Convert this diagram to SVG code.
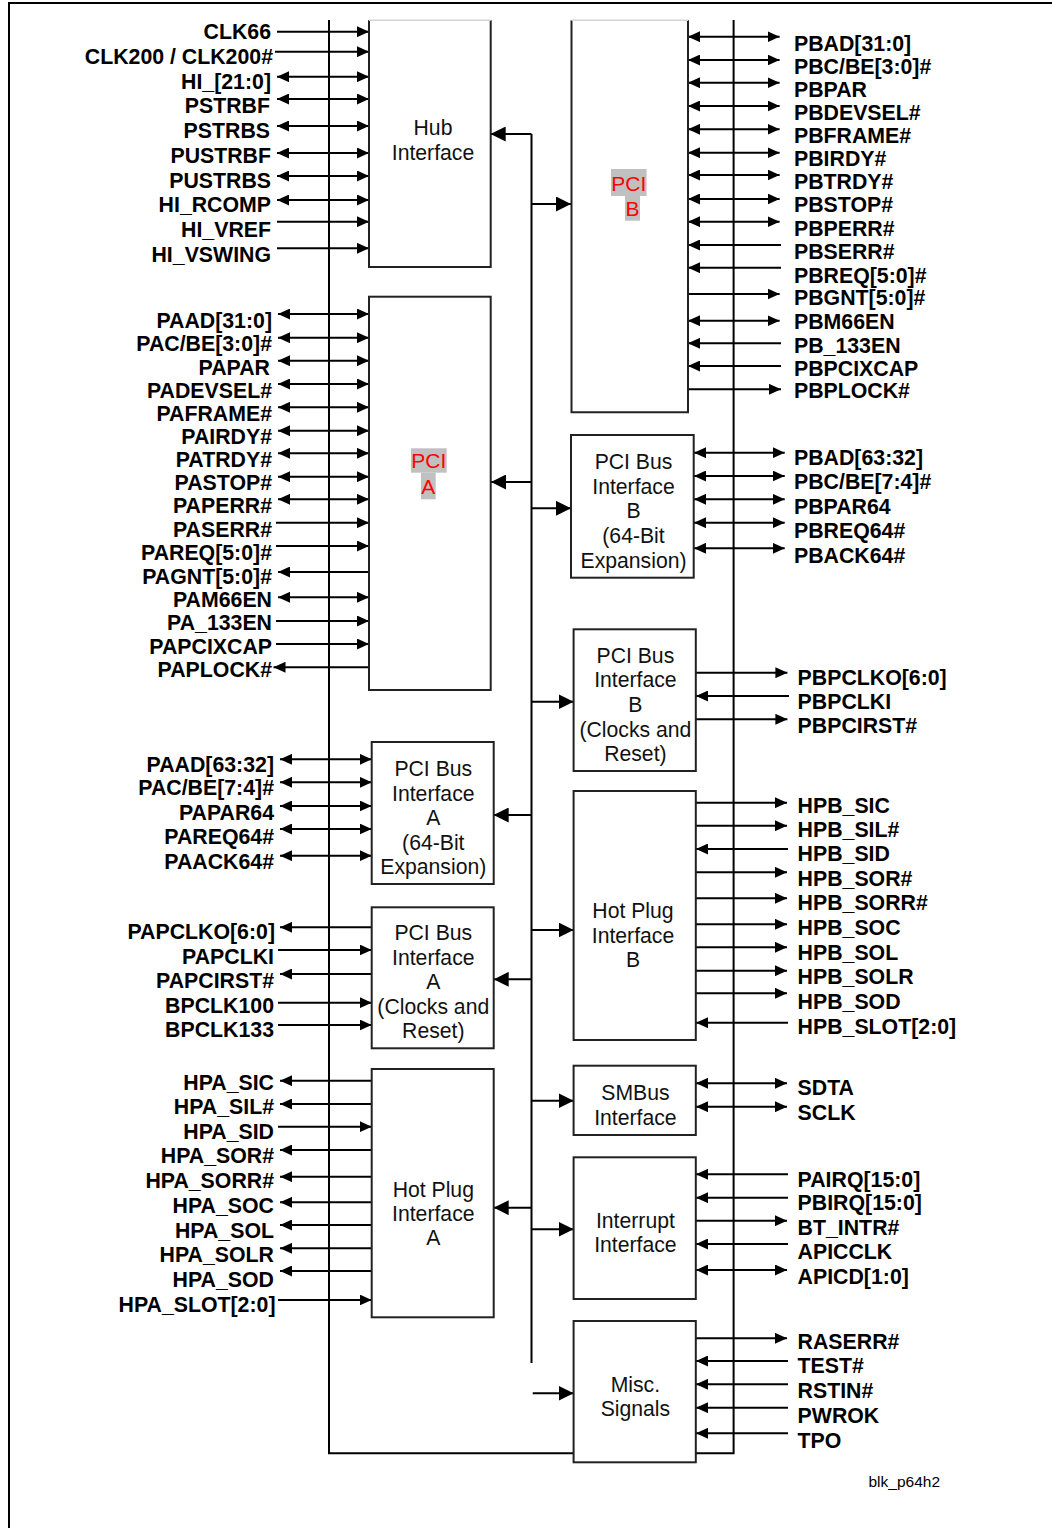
<svg xmlns="http://www.w3.org/2000/svg" width="1052" height="1528" viewBox="0 0 1052 1528">
<style>
.s{stroke:#000;stroke-width:2;fill:none}
.o{marker-end:url(#ah)}
.b{marker-start:url(#ah);marker-end:url(#ah)}
.k{marker-end:url(#bh)}
.bx{fill:#fff;stroke:#222;stroke-width:2}
.bf{fill:#fff;stroke:none}
.lbl{font-family:"Liberation Sans",Arial,sans-serif;font-weight:bold;font-size:21.3px;fill:#000}
.l{text-anchor:end}
.bt{font-family:"Liberation Sans",Arial,sans-serif;font-size:21.2px;text-anchor:middle;fill:#111}
.red{font-family:"Liberation Sans",Arial,sans-serif;font-size:21px;text-anchor:middle;fill:#ff0000}
.hl{fill:#c0c0c0}
</style>
<defs>
<marker id="ah" viewBox="0 0 12 11" refX="12" refY="5.5" markerWidth="12" markerHeight="11" markerUnits="userSpaceOnUse" orient="auto-start-reverse"><path d="M0,0 L12,5.5 L0,11 z" fill="#000"/></marker>
<marker id="bh" viewBox="0 0 15 15" refX="15" refY="7.5" markerWidth="15" markerHeight="15" markerUnits="userSpaceOnUse" orient="auto"><path d="M0,0 L15,7.5 L0,15 z" fill="#000"/></marker>
</defs>
<rect x="0" y="0" width="1052" height="1528" fill="#fff"/>
<path d="M9,1528 V3 H1052" stroke="#000" stroke-width="2" fill="none"/>

<g id="connectors">
<path class="s" d="M329,20 V1453.3 H733.6 V20"/>
<line class="s" x1="531.5" y1="134" x2="531.5" y2="1363"/>
<line class="s k" x1="531.5" y1="134" x2="490.7" y2="134"/>
<line class="s k" x1="531.5" y1="204" x2="571" y2="204"/>
<line class="s k" x1="531.5" y1="482" x2="491" y2="482"/>
<line class="s k" x1="531.5" y1="508.3" x2="571" y2="508.3"/>
<line class="s k" x1="531.5" y1="701.7" x2="573.6" y2="701.7"/>
<line class="s k" x1="531.5" y1="815" x2="493.7" y2="815"/>
<line class="s k" x1="531.5" y1="930" x2="573.6" y2="930"/>
<line class="s k" x1="531.5" y1="979.3" x2="493.7" y2="979.3"/>
<line class="s k" x1="531.5" y1="1100.7" x2="573.6" y2="1100.7"/>
<line class="s k" x1="531.5" y1="1207.7" x2="493.7" y2="1207.7"/>
<line class="s k" x1="531.5" y1="1229.3" x2="573.6" y2="1229.3"/>
<line class="s k" x1="532.7" y1="1393.3" x2="573.6" y2="1393.3"/>

<line class="s o" x1="277" y1="31.7" x2="369" y2="31.7"/>
<line class="s o" x1="275" y1="51.7" x2="369" y2="51.7"/>
<line class="s b" x1="277" y1="76.7" x2="369" y2="76.7"/>
<line class="s b" x1="277" y1="99" x2="369" y2="99"/>
<line class="s b" x1="277" y1="126" x2="369" y2="126"/>
<line class="s b" x1="277" y1="153" x2="369" y2="153"/>
<line class="s b" x1="277" y1="176" x2="369" y2="176"/>
<line class="s b" x1="277" y1="200" x2="369" y2="200"/>
<line class="s o" x1="277" y1="221.7" x2="369" y2="221.7"/>
<line class="s o" x1="277" y1="248.3" x2="369" y2="248.3"/>

<line class="s b" x1="278" y1="314" x2="369" y2="314"/>
<line class="s b" x1="278" y1="337.7" x2="369" y2="337.7"/>
<line class="s b" x1="278" y1="360.7" x2="369" y2="360.7"/>
<line class="s b" x1="278" y1="384" x2="369" y2="384"/>
<line class="s b" x1="278" y1="407.3" x2="369" y2="407.3"/>
<line class="s b" x1="278" y1="430.7" x2="369" y2="430.7"/>
<line class="s b" x1="278" y1="453.3" x2="369" y2="453.3"/>
<line class="s b" x1="278" y1="476.7" x2="369" y2="476.7"/>
<line class="s b" x1="278" y1="499.3" x2="369" y2="499.3"/>
<line class="s o" x1="276" y1="522.7" x2="369" y2="522.7"/>
<line class="s o" x1="276" y1="546" x2="369" y2="546"/>
<line class="s o" x1="369" y1="572" x2="278" y2="572"/>
<line class="s b" x1="278" y1="597.3" x2="369" y2="597.3"/>
<line class="s o" x1="276" y1="621" x2="369" y2="621"/>
<line class="s o" x1="276" y1="644" x2="369" y2="644"/>
<line class="s o" x1="369" y1="667.3" x2="273.5" y2="667.3"/>

<line class="s b" x1="688" y1="36.7" x2="779.6" y2="36.7"/>
<line class="s b" x1="688" y1="60" x2="779.6" y2="60"/>
<line class="s b" x1="688" y1="82.7" x2="779.6" y2="82.7"/>
<line class="s b" x1="688" y1="106" x2="779.6" y2="106"/>
<line class="s b" x1="688" y1="129.3" x2="779.6" y2="129.3"/>
<line class="s b" x1="688" y1="152.7" x2="779.6" y2="152.7"/>
<line class="s b" x1="688" y1="175" x2="779.6" y2="175"/>
<line class="s b" x1="688" y1="199" x2="779.6" y2="199"/>
<line class="s b" x1="688" y1="221.7" x2="779.6" y2="221.7"/>
<line class="s o" x1="781" y1="245" x2="688" y2="245"/>
<line class="s o" x1="781" y1="267.7" x2="688" y2="267.7"/>
<line class="s o" x1="688" y1="294" x2="779.6" y2="294"/>
<line class="s b" x1="688" y1="320.7" x2="779.6" y2="320.7"/>
<line class="s o" x1="781" y1="343.3" x2="688" y2="343.3"/>
<line class="s o" x1="781" y1="366" x2="688" y2="366"/>
<line class="s o" x1="688" y1="389.3" x2="781" y2="389.3"/>

<line class="s b" x1="694" y1="452.7" x2="784.7" y2="452.7"/>
<line class="s b" x1="694" y1="476" x2="784.7" y2="476"/>
<line class="s b" x1="694" y1="499.3" x2="784.7" y2="499.3"/>
<line class="s b" x1="694" y1="522.7" x2="784.7" y2="522.7"/>
<line class="s b" x1="694" y1="548.3" x2="784.7" y2="548.3"/>

<line class="s o" x1="696" y1="672.7" x2="787.4" y2="672.7"/>
<line class="s o" x1="789" y1="696" x2="696" y2="696"/>
<line class="s o" x1="696" y1="719.3" x2="787.4" y2="719.3"/>

<line class="s b" x1="280" y1="759.3" x2="371.7" y2="759.3"/>
<line class="s b" x1="280" y1="782.3" x2="371.7" y2="782.3"/>
<line class="s b" x1="280" y1="806" x2="371.7" y2="806"/>
<line class="s b" x1="280" y1="829" x2="371.7" y2="829"/>
<line class="s b" x1="280" y1="855.7" x2="371.7" y2="855.7"/>

<line class="s o" x1="371.7" y1="927.3" x2="280" y2="927.3"/>
<line class="s o" x1="278" y1="950" x2="371.7" y2="950"/>
<line class="s o" x1="371.7" y1="974" x2="280" y2="974"/>
<line class="s o" x1="278" y1="1002.7" x2="371.7" y2="1002.7"/>
<line class="s o" x1="278" y1="1025" x2="371.7" y2="1025"/>

<line class="s o" x1="696" y1="802.7" x2="787" y2="802.7"/>
<line class="s o" x1="696" y1="825.7" x2="787" y2="825.7"/>
<line class="s o" x1="788" y1="849" x2="696" y2="849"/>
<line class="s o" x1="696" y1="872.3" x2="787" y2="872.3"/>
<line class="s o" x1="696" y1="898.3" x2="787" y2="898.3"/>
<line class="s o" x1="696" y1="924.3" x2="787" y2="924.3"/>
<line class="s o" x1="696" y1="947.3" x2="787" y2="947.3"/>
<line class="s o" x1="696" y1="970.7" x2="787" y2="970.7"/>
<line class="s o" x1="696" y1="993.3" x2="787" y2="993.3"/>
<line class="s o" x1="788" y1="1022.7" x2="696" y2="1022.7"/>

<line class="s b" x1="696" y1="1083.3" x2="787" y2="1083.3"/>
<line class="s b" x1="696" y1="1106.7" x2="787" y2="1106.7"/>

<line class="s o" x1="371.7" y1="1080.7" x2="280" y2="1080.7"/>
<line class="s o" x1="371.7" y1="1104" x2="280" y2="1104"/>
<line class="s o" x1="278" y1="1126.7" x2="371.7" y2="1126.7"/>
<line class="s o" x1="371.7" y1="1150" x2="280" y2="1150"/>
<line class="s o" x1="371.7" y1="1176.7" x2="280" y2="1176.7"/>
<line class="s o" x1="371.7" y1="1202.3" x2="280" y2="1202.3"/>
<line class="s o" x1="371.7" y1="1225" x2="280" y2="1225"/>
<line class="s o" x1="371.7" y1="1248.3" x2="280" y2="1248.3"/>
<line class="s o" x1="371.7" y1="1271" x2="280" y2="1271"/>
<line class="s o" x1="278" y1="1300" x2="371.7" y2="1300"/>

<line class="s o" x1="788" y1="1174.3" x2="696" y2="1174.3"/>
<line class="s o" x1="788" y1="1197.7" x2="696" y2="1197.7"/>
<line class="s o" x1="696" y1="1220.7" x2="787" y2="1220.7"/>
<line class="s o" x1="788" y1="1244" x2="696" y2="1244"/>
<line class="s b" x1="696" y1="1270" x2="787" y2="1270"/>

<line class="s o" x1="696" y1="1338.3" x2="787" y2="1338.3"/>
<line class="s o" x1="788" y1="1361" x2="696" y2="1361"/>
<line class="s o" x1="788" y1="1384.3" x2="696" y2="1384.3"/>
<line class="s o" x1="788" y1="1407.7" x2="696" y2="1407.7"/>
<line class="s o" x1="788" y1="1433.3" x2="696" y2="1433.3"/>
</g>

<g id="hub">
<rect class="bf" x="369" y="20.3" width="121.7" height="246.7"/>
<path d="M369,20.3 V267 H490.7 V20.3" fill="none" stroke="#222" stroke-width="2"/>
<line x1="369" y1="20.3" x2="490.7" y2="20.3" stroke="#d4d4d4" stroke-width="1.5"/>
<text class="bt" x="433" y="135">Hub</text>
<text class="bt" x="433" y="159.5">Interface</text>
</g>

<g id="pci-b">
<rect class="bf" x="571.5" y="20.3" width="116.5" height="392"/>
<path d="M571.5,20.3 V412.3 H688 V20.3" fill="none" stroke="#222" stroke-width="2"/>
<line x1="571.5" y1="20.3" x2="688" y2="20.3" stroke="#d4d4d4" stroke-width="1.5"/>
<rect class="hl" x="611" y="169" width="35.6" height="27"/>
<rect class="hl" x="625" y="196" width="15" height="24.7"/>
<text class="red" x="628.8" y="190.5">PCI</text>
<text class="red" x="632.5" y="215.5">B</text>
</g>

<g id="pci-a">
<rect class="bx" x="369" y="296.7" width="121.7" height="393.3"/>
<rect class="hl" x="411" y="448.3" width="35.7" height="24.4"/>
<rect class="hl" x="421" y="472.7" width="14.7" height="26.6"/>
<text class="red" x="428.8" y="468">PCI</text>
<text class="red" x="428.3" y="494">A</text>
</g>

<g id="pci-b-64">
<rect class="bx" x="571" y="435" width="122.7" height="142.7"/>
<text class="bt" x="633.5" y="469">PCI Bus</text>
<text class="bt" x="633.5" y="493.5">Interface</text>
<text class="bt" x="633.5" y="518">B</text>
<text class="bt" x="633.5" y="543">(64-Bit</text>
<text class="bt" x="633.5" y="567.5">Expansion)</text>
</g>

<g id="pci-b-clk">
<rect class="bx" x="573.6" y="629.3" width="122.2" height="141.7"/>
<text class="bt" x="635.4" y="663.3">PCI Bus</text>
<text class="bt" x="635.4" y="687">Interface</text>
<text class="bt" x="635.4" y="711.5">B</text>
<text class="bt" x="635.4" y="736.5">(Clocks and</text>
<text class="bt" x="635.4" y="761">Reset)</text>
</g>

<g id="pci-a-64">
<rect class="bx" x="371.7" y="742" width="122" height="142"/>
<text class="bt" x="433.3" y="776">PCI Bus</text>
<text class="bt" x="433.3" y="800.5">Interface</text>
<text class="bt" x="433.3" y="825">A</text>
<text class="bt" x="433.3" y="849.5">(64-Bit</text>
<text class="bt" x="433.3" y="874">Expansion)</text>
</g>

<g id="pci-a-clk">
<rect class="bx" x="371.7" y="907.3" width="122" height="141"/>
<text class="bt" x="433.3" y="940">PCI Bus</text>
<text class="bt" x="433.3" y="964.5">Interface</text>
<text class="bt" x="433.3" y="989">A</text>
<text class="bt" x="433.3" y="1014">(Clocks and</text>
<text class="bt" x="433.3" y="1038.3">Reset)</text>
</g>

<g id="hot-plug-b">
<rect class="bx" x="573.6" y="791" width="122.2" height="249"/>
<text class="bt" x="633" y="918.3">Hot Plug</text>
<text class="bt" x="633" y="942.7">Interface</text>
<text class="bt" x="633" y="966.5">B</text>
</g>

<g id="smbus">
<rect class="bx" x="573.6" y="1065.7" width="122.2" height="69.3"/>
<text class="bt" x="635.4" y="1100">SMBus</text>
<text class="bt" x="635.4" y="1125">Interface</text>
</g>

<g id="hot-plug-a">
<rect class="bx" x="371.7" y="1069" width="122" height="248.3"/>
<text class="bt" x="433.3" y="1196.7">Hot Plug</text>
<text class="bt" x="433.3" y="1221">Interface</text>
<text class="bt" x="433.3" y="1245">A</text>
</g>

<g id="interrupt">
<rect class="bx" x="573.6" y="1157.3" width="122.2" height="141.7"/>
<text class="bt" x="635.4" y="1228.3">Interrupt</text>
<text class="bt" x="635.4" y="1251.7">Interface</text>
</g>

<g id="misc">
<rect class="bx" x="573.6" y="1321" width="122.2" height="141.3"/>
<text class="bt" x="635.4" y="1391.7">Misc.</text>
<text class="bt" x="635.4" y="1415.5">Signals</text>
</g>

<g id="signal-labels" class="lbl">
<g class="l">
<text x="271" y="39.3">CLK66</text>
<text x="273" y="64">CLK200 / CLK200#</text>
<text x="271" y="88.7">HI_[21:0]</text>
<text x="270" y="113.4">PSTRBF</text>
<text x="270" y="138">PSTRBS</text>
<text x="271" y="162.8">PUSTRBF</text>
<text x="271" y="187.5">PUSTRBS</text>
<text x="271" y="212">HI_RCOMP</text>
<text x="271" y="237">HI_VREF</text>
<text x="271" y="261.6">HI_VSWING</text>

<text x="272" y="328">PAAD[31:0]</text>
<text x="272" y="351">PAC/BE[3:0]#</text>
<text x="270" y="375">PAPAR</text>
<text x="272" y="398">PADEVSEL#</text>
<text x="272" y="421">PAFRAME#</text>
<text x="272" y="444">PAIRDY#</text>
<text x="272" y="467">PATRDY#</text>
<text x="272" y="490">PASTOP#</text>
<text x="272" y="513">PAPERR#</text>
<text x="272" y="537">PASERR#</text>
<text x="272" y="560">PAREQ[5:0]#</text>
<text x="272" y="583.5">PAGNT[5:0]#</text>
<text x="272" y="607">PAM66EN</text>
<text x="272" y="630">PA_133EN</text>
<text x="272" y="653.5">PAPCIXCAP</text>
<text x="272" y="677">PAPLOCK#</text>

<text x="274" y="771.5">PAAD[63:32]</text>
<text x="274" y="795">PAC/BE[7:4]#</text>
<text x="274" y="820">PAPAR64</text>
<text x="274" y="844">PAREQ64#</text>
<text x="274" y="869">PAACK64#</text>

<text x="275" y="939">PAPCLKO[6:0]</text>
<text x="274" y="964">PAPCLKI</text>
<text x="274" y="988">PAPCIRST#</text>
<text x="274" y="1012.7">BPCLK100</text>
<text x="274" y="1036.7">BPCLK133</text>

<text x="274" y="1090">HPA_SIC</text>
<text x="274" y="1114">HPA_SIL#</text>
<text x="274" y="1139">HPA_SID</text>
<text x="274" y="1163.3">HPA_SOR#</text>
<text x="274" y="1187.7">HPA_SORR#</text>
<text x="274" y="1213">HPA_SOC</text>
<text x="274" y="1237.7">HPA_SOL</text>
<text x="274" y="1261.7">HPA_SOLR</text>
<text x="274" y="1286.5">HPA_SOD</text>
<text x="275.5" y="1311.5">HPA_SLOT[2:0]</text>
</g>
<g>
<text x="794" y="51">PBAD[31:0]</text>
<text x="794" y="73.5">PBC/BE[3:0]#</text>
<text x="794" y="96.7">PBPAR</text>
<text x="794" y="119.5">PBDEVSEL#</text>
<text x="794" y="142.7">PBFRAME#</text>
<text x="794" y="166">PBIRDY#</text>
<text x="794" y="189.3">PBTRDY#</text>
<text x="794" y="212.3">PBSTOP#</text>
<text x="794" y="235.7">PBPERR#</text>
<text x="794" y="259.3">PBSERR#</text>
<text x="794" y="282.7">PBREQ[5:0]#</text>
<text x="794" y="305">PBGNT[5:0]#</text>
<text x="794" y="329.3">PBM66EN</text>
<text x="794" y="352.7">PB_133EN</text>
<text x="794" y="375.7">PBPCIXCAP</text>
<text x="794" y="398.3">PBPLOCK#</text>

<text x="794" y="464.5">PBAD[63:32]</text>
<text x="794" y="489">PBC/BE[7:4]#</text>
<text x="794" y="513.5">PBPAR64</text>
<text x="794" y="538">PBREQ64#</text>
<text x="794" y="563">PBACK64#</text>

<text x="797.6" y="685">PBPCLKO[6:0]</text>
<text x="797.6" y="708.5">PBPCLKI</text>
<text x="797.6" y="733">PBPCIRST#</text>

<text x="797.6" y="812.5">HPB_SIC</text>
<text x="797.6" y="836.7">HPB_SIL#</text>
<text x="797.6" y="861">HPB_SID</text>
<text x="797.6" y="886">HPB_SOR#</text>
<text x="797.6" y="910">HPB_SORR#</text>
<text x="797.6" y="935">HPB_SOC</text>
<text x="797.6" y="960">HPB_SOL</text>
<text x="797.6" y="984">HPB_SOLR</text>
<text x="797.6" y="1009">HPB_SOD</text>
<text x="797.6" y="1034">HPB_SLOT[2:0]</text>

<text x="797.6" y="1095">SDTA</text>
<text x="797.6" y="1120">SCLK</text>

<text x="797.6" y="1186.7">PAIRQ[15:0]</text>
<text x="797.6" y="1210">PBIRQ[15:0]</text>
<text x="797.6" y="1235">BT_INTR#</text>
<text x="797.6" y="1259">APICCLK</text>
<text x="797.6" y="1284">APICD[1:0]</text>

<text x="797.6" y="1349.3">RASERR#</text>
<text x="797.6" y="1373.3">TEST#</text>
<text x="797.6" y="1398.3">RSTIN#</text>
<text x="797.6" y="1423.3">PWROK</text>
<text x="797.6" y="1448.3">TPO</text>
</g>
</g>

<text x="868.5" y="1486.5" font-family="Liberation Sans, Arial, sans-serif" font-size="15.5" fill="#000">blk_p64h2</text>
</svg>
